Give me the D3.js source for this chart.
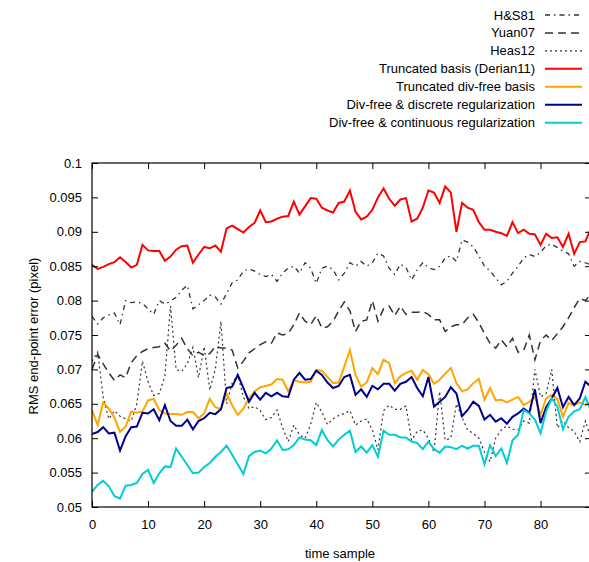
<!DOCTYPE html>
<html>
<head>
<meta charset="utf-8">
<script src="https://cdn.jsdelivr.net/npm/d3@7"></script>
<style>
  html, body { margin: 0; padding: 0; background: #fff; }
  svg { display: block; }
  text { font-family: "Liberation Sans", Arial, sans-serif; font-size: 13px; fill: #000; }
</style>
</head>
<body>
<svg id="chart" width="589" height="562"></svg>
<script>
// Time samples 0..89
const timeSamples = d3.range(0, 90);

// RMS end-point error per method
const hs81 = [0.0777,0.0766,0.0775,0.0779,0.0782,0.0765,0.0800,0.0797,0.0798,0.0796,
  0.0788,0.0780,0.0800,0.0795,0.0799,0.0805,0.0815,0.0822,0.0788,0.0794,
  0.0800,0.0808,0.0805,0.0795,0.0810,0.0826,0.0830,0.0843,0.0846,0.0843,
  0.0838,0.0835,0.0838,0.0828,0.0840,0.0847,0.0850,0.0840,0.0855,0.0847,
  0.0825,0.0847,0.0850,0.0845,0.0830,0.0840,0.0855,0.0850,0.0857,0.0850,
  0.0855,0.0869,0.0865,0.0847,0.0838,0.0853,0.0848,0.0830,0.0845,0.0855,
  0.0848,0.0845,0.0850,0.0862,0.0865,0.0857,0.0888,0.0885,0.0878,0.0865,
  0.0850,0.0843,0.0833,0.0823,0.0828,0.0840,0.0850,0.0862,0.0867,0.0864,
  0.0870,0.0880,0.0882,0.0877,0.0872,0.0868,0.0850,0.0857,0.0855,0.0852];

const yuan07 = [0.0700,0.0722,0.0708,0.0695,0.0684,0.0692,0.0688,0.0710,0.0720,0.0726,
  0.0730,0.0732,0.0733,0.0738,0.0727,0.0735,0.0745,0.0730,0.0720,0.0725,
  0.0720,0.0723,0.0733,0.0731,0.0731,0.0728,0.0702,0.0712,0.0724,0.0730,
  0.0736,0.0740,0.0738,0.0753,0.0750,0.0752,0.0765,0.0782,0.0770,0.0765,
  0.0778,0.0760,0.0762,0.0770,0.0785,0.0798,0.0785,0.0755,0.0770,0.0772,
  0.0800,0.0770,0.0788,0.0792,0.0778,0.0792,0.0780,0.0783,0.0783,0.0784,
  0.0780,0.0772,0.0772,0.0755,0.0762,0.0765,0.0765,0.0775,0.0780,0.0768,
  0.0752,0.0738,0.0731,0.0743,0.0733,0.0745,0.0725,0.0728,0.0750,0.0714,
  0.0742,0.0750,0.0742,0.0752,0.0762,0.0775,0.0790,0.0803,0.0800,0.0810];

const heas12 = [0.0712,0.0725,0.0660,0.0628,0.0640,0.0632,0.0628,0.0625,0.0650,0.0712,
  0.0682,0.0662,0.0665,0.0690,0.0792,0.0700,0.0697,0.0708,0.0732,0.0688,
  0.0733,0.0670,0.0700,0.0770,0.0650,0.0680,0.0692,0.0660,0.0643,0.0646,
  0.0640,0.0627,0.0630,0.0641,0.0615,0.0595,0.0619,0.0605,0.0600,0.0620,
  0.0652,0.0638,0.0620,0.0628,0.0633,0.0636,0.0640,0.0619,0.0625,0.0628,
  0.0612,0.0583,0.0640,0.0648,0.0642,0.0642,0.0647,0.0597,0.0610,0.0612,
  0.0600,0.0580,0.0668,0.0597,0.0600,0.0650,0.0630,0.0612,0.0607,0.0600,
  0.0580,0.0566,0.0600,0.0612,0.0618,0.0613,0.0612,0.0625,0.0622,0.0700,
  0.0660,0.0665,0.0700,0.0615,0.0625,0.0615,0.0610,0.0595,0.0625,0.0600];

const truncBasis = [0.0852,0.0846,0.0849,0.0853,0.0856,0.0863,0.0856,0.0848,0.0852,0.0881,
  0.0873,0.0872,0.0872,0.0858,0.0864,0.0874,0.0879,0.0880,0.0855,0.0867,
  0.0878,0.0876,0.0880,0.0871,0.0905,0.0909,0.0904,0.0899,0.0907,0.0913,
  0.0931,0.0914,0.0915,0.0919,0.0922,0.0923,0.0944,0.0925,0.0937,0.0949,
  0.0948,0.0935,0.0931,0.0928,0.0942,0.0944,0.0960,0.0929,0.0918,0.0922,
  0.0932,0.0950,0.0963,0.0948,0.0938,0.0947,0.0949,0.0915,0.0919,0.0935,
  0.0960,0.0957,0.0942,0.0966,0.0957,0.0900,0.0942,0.0935,0.0932,0.0914,
  0.0903,0.0903,0.0900,0.0898,0.0894,0.0914,0.0898,0.0903,0.0897,0.0896,
  0.0881,0.0897,0.0891,0.0892,0.0878,0.0897,0.0868,0.0885,0.0886,0.0905];

const truncDivFree = [0.0641,0.0619,0.0652,0.0643,0.0630,0.0609,0.0617,0.0639,0.0637,0.0639,
  0.0655,0.0657,0.0641,0.0636,0.0635,0.0635,0.0634,0.0638,0.0638,0.0629,
  0.0636,0.0657,0.0645,0.0642,0.0665,0.0648,0.0634,0.0643,0.0658,0.0668,
  0.0674,0.0676,0.0678,0.0686,0.0685,0.0668,0.0684,0.0682,0.0681,0.0682,
  0.0699,0.0698,0.0689,0.0680,0.0681,0.0704,0.0728,0.0692,0.0675,0.0681,
  0.0702,0.0693,0.0714,0.0709,0.0680,0.0690,0.0695,0.0698,0.0685,0.0699,
  0.0693,0.0679,0.0685,0.0694,0.0702,0.0680,0.0668,0.0671,0.0680,0.0686,
  0.0656,0.0673,0.0655,0.0656,0.0652,0.0656,0.0660,0.0648,0.0653,0.0660,
  0.0634,0.0658,0.0663,0.0657,0.0631,0.0651,0.0648,0.0652,0.0648,0.0651];

const divFreeDiscrete = [0.0606,0.0609,0.0616,0.0607,0.0608,0.0582,0.0603,0.0616,0.0617,0.0637,
  0.0636,0.0642,0.0626,0.0648,0.0625,0.0618,0.0618,0.0627,0.0613,0.0625,
  0.0629,0.0637,0.0635,0.0642,0.0673,0.0675,0.0692,0.0673,0.0653,0.0666,
  0.0656,0.0666,0.0661,0.0666,0.0661,0.0660,0.0685,0.0695,0.0685,0.0686,
  0.0698,0.0692,0.0681,0.0673,0.0676,0.0689,0.0692,0.0663,0.0671,0.0660,
  0.0676,0.0671,0.0679,0.0679,0.0669,0.0679,0.0682,0.0689,0.0673,0.0661,
  0.0689,0.0646,0.0653,0.0660,0.0674,0.0665,0.0632,0.0641,0.0653,0.0647,
  0.0627,0.0634,0.0624,0.0629,0.0621,0.0631,0.0636,0.0643,0.0637,0.0671,
  0.0622,0.0645,0.0658,0.0673,0.0645,0.0660,0.0648,0.0658,0.0682,0.0675];

const divFreeContinuous = [0.0522,0.0532,0.0538,0.0530,0.0516,0.0512,0.0531,0.0532,0.0535,0.0548,
  0.0554,0.0535,0.0549,0.0559,0.0558,0.0585,0.0573,0.0561,0.0549,0.0550,
  0.0558,0.0564,0.0573,0.0580,0.0589,0.0576,0.0562,0.0548,0.0574,0.0580,
  0.0582,0.0578,0.0585,0.0597,0.0583,0.0584,0.0590,0.0601,0.0598,0.0597,
  0.0590,0.0612,0.0597,0.0588,0.0598,0.0605,0.0611,0.0580,0.0588,0.0579,
  0.0590,0.0573,0.0611,0.0605,0.0605,0.0601,0.0601,0.0595,0.0593,0.0584,
  0.0595,0.0584,0.0579,0.0588,0.0587,0.0584,0.0589,0.0585,0.0589,0.0589,
  0.0562,0.0590,0.0574,0.0585,0.0564,0.0597,0.0605,0.0641,0.0636,0.0627,
  0.0607,0.0639,0.0658,0.0646,0.0613,0.0631,0.0639,0.0642,0.0660,0.0640];

const seriesNames = ["H&S81", "Yuan07", "Heas12", "Truncated basis (Derian11)",
  "Truncated div-free basis", "Div-free & discrete regularization",
  "Div-free & continuous regularization"];

const xTicks = [0, 10, 20, 30, 40, 50, 60, 70, 80];
const yTicks = [0.05, 0.055, 0.06, 0.065, 0.07, 0.075, 0.08, 0.085, 0.09, 0.095, 0.1];
const xDomain = [0, 89];
const yDomain = [0.05, 0.1];

// Styling for each series, in legend order
const styles = [
  { values: hs81,              color: "#333", width: 1.3, dash: "5,4,1.5,4" },
  { values: yuan07,            color: "#333", width: 1.5, dash: "8,5" },
  { values: heas12,            color: "#333", width: 1.2, dash: "2,3" },
  { values: truncBasis,        color: "#ff0000", width: 2, dash: null },
  { values: truncDivFree,      color: "#ffa500", width: 2, dash: null },
  { values: divFreeDiscrete,   color: "#00008b", width: 2, dash: null },
  { values: divFreeContinuous, color: "#00ced1", width: 2, dash: null }
];

const svg = d3.select("#chart");
const plot = { left: 92, right: 591, top: 163, bottom: 507 };

const x = d3.scaleLinear().domain(xDomain).range([plot.left, plot.right]);
const y = d3.scaleLinear().domain(yDomain).range([plot.bottom, plot.top]);

svg.append("defs").append("clipPath").attr("id", "plotClip")
  .append("rect")
  .attr("x", plot.left).attr("y", plot.top)
  .attr("width", plot.right - plot.left).attr("height", plot.bottom - plot.top);

// Series lines (dashed ones first, solid ones drawn over them)
const line = d3.line().x((d, i) => x(timeSamples[i])).y(d => y(d));
const lines = svg.append("g").attr("clip-path", "url(#plotClip)");
styles.forEach(s => {
  lines.append("path")
    .datum(s.values)
    .attr("d", line)
    .attr("fill", "none")
    .attr("stroke", s.color)
    .attr("stroke-width", s.width)
    .attr("stroke-dasharray", s.dash)
    .attr("stroke-linejoin", "miter");
});

// Axes with inward ticks on all four sides
const fmt = d => String(+d.toFixed(3));
const axisStyle = g => {
  g.select(".domain").remove();
  g.selectAll(".tick line").attr("stroke", "#000");
  g.selectAll(".tick text").style("font-size", "13px")
    .style("font-family", '"Liberation Sans", Arial, sans-serif').attr("fill", "#000");
};

svg.append("g").attr("transform", `translate(${plot.left},0)`)
  .call(d3.axisLeft(y).tickValues(yTicks).tickFormat(fmt).tickSizeInner(-6).tickSizeOuter(0).tickPadding(10))
  .call(axisStyle);
svg.append("g").attr("transform", `translate(${plot.right},0)`)
  .call(d3.axisRight(y).tickValues(yTicks).tickFormat("").tickSizeInner(-6).tickSizeOuter(0))
  .call(axisStyle);
svg.append("g").attr("transform", `translate(0,${plot.bottom})`)
  .call(d3.axisBottom(x).tickValues(xTicks).tickFormat(d3.format("d")).tickSizeInner(-6).tickSizeOuter(0).tickPadding(13))
  .call(axisStyle);
svg.append("g").attr("transform", `translate(0,${plot.top})`)
  .call(d3.axisTop(x).tickValues(xTicks).tickFormat("").tickSizeInner(-6).tickSizeOuter(0))
  .call(axisStyle);

// Plot frame
svg.append("rect")
  .attr("x", plot.left).attr("y", plot.top)
  .attr("width", plot.right - plot.left).attr("height", plot.bottom - plot.top)
  .attr("fill", "none").attr("stroke", "#000").attr("stroke-width", 1.2);

// Axis titles
svg.append("text")
  .attr("x", 340).attr("y", 558)
  .attr("text-anchor", "middle")
  .text("time sample");
svg.append("text")
  .attr("transform", "translate(38,336) rotate(-90)")
  .attr("text-anchor", "middle")
  .text("RMS end-point error (pixel)");

// Legend
const legend = svg.append("g");
seriesNames.forEach((name, i) => {
  const cy = 15 + i * 17.95;
  const s = styles[i];
  legend.append("text")
    .attr("x", 535).attr("y", cy + 4.5)
    .attr("text-anchor", "end")
    .text(name);
  legend.append("line")
    .attr("x1", 545).attr("x2", 582)
    .attr("y1", cy).attr("y2", cy)
    .attr("stroke", s.color)
    .attr("stroke-width", s.width)
    .attr("stroke-dasharray", s.dash);
});
</script>
</body>
</html>
